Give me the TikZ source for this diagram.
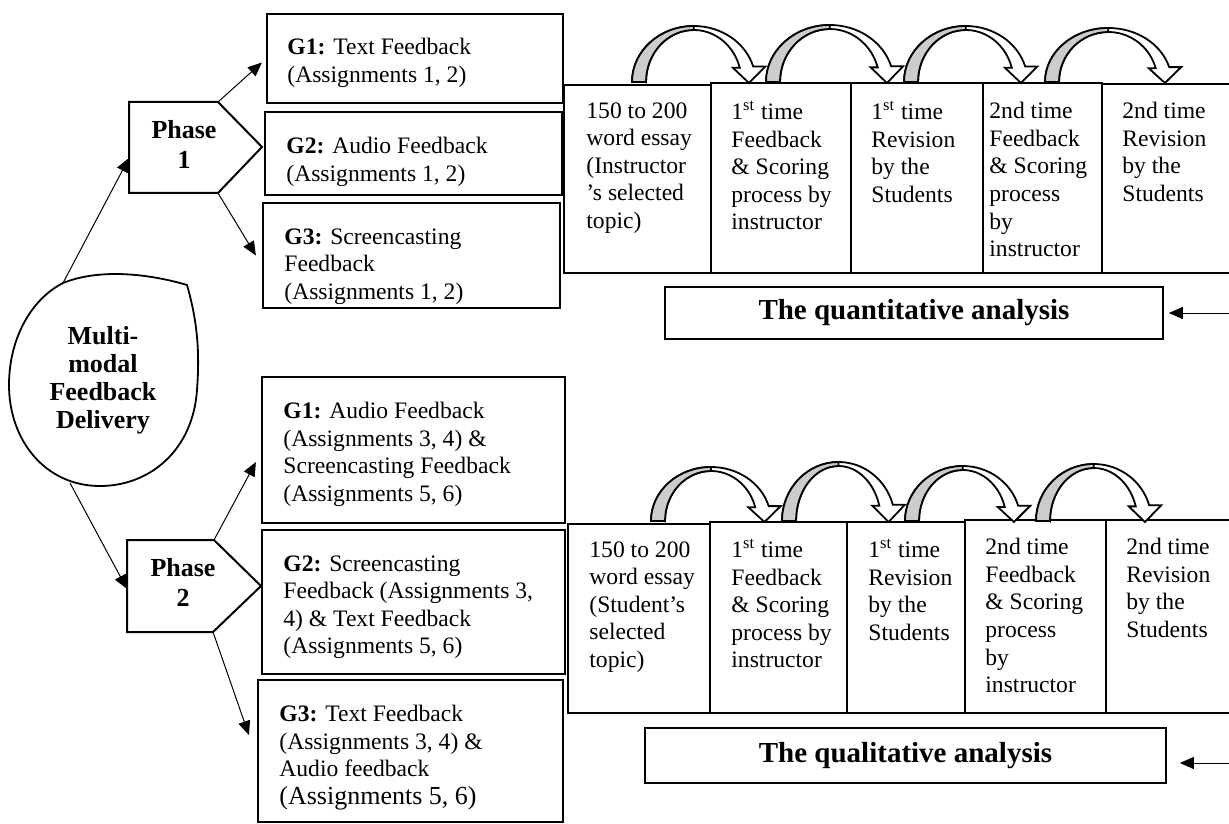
\documentclass[tikz,border=0pt]{standalone}
\usepackage{fontspec}
\setmainfont{Liberation Serif}
\usetikzlibrary{arrows.meta}
\usetikzlibrary{fit}

\tikzset{
	gbox/.style={draw, line width=1.1pt, inner sep=0pt},
	pbox/.style={draw, line width=0.6pt, inner sep=0pt},
	abox/.style={draw, line width=0.8pt, inner sep=0pt},
	hdr/.style={inner sep=0pt, font=\bfseries\fontsize{14.5}{16}\selectfont},
	txt/.style={anchor=north west, align=left, inner sep=0pt, font=\fontsize{11.8}{13.8}\selectfont},
	lbl/.style={align=center, inner sep=0pt, font=\bfseries\fontsize{13}{14}\selectfont},
	phlbl/.style={align=center, inner sep=0pt, font=\bfseries\fontsize{13}{15}\selectfont},
	conn/.style={-{Triangle[length=7pt,width=6pt]}, line width=0.5pt},
}

% curved block arrow: centre x, base y, radius, height
\newcommand{\bentarrow}[4]{%
	\pgfmathsetmacro{\axo}{#1+0.9613*#3}
	\pgfmathsetmacro{\axi}{#1+0.9613*(#3-14)}
	\pgfmathsetmacro{\ayo}{#2-0.2756*#4}
	\pgfmathsetmacro{\ayi}{#2-0.2756*(#4-4)}
	\pgfmathsetmacro{\axt}{(\axo+\axi+5)/2}
	\filldraw[fill=white, line width=0.9pt] ({#1-#3+14},#2) -- ({#1-#3},#2)
		arc[start angle=180, end angle=344, x radius=#3, y radius=#4]
		-- ({\axo+12},\ayo) -- (\axt,{#2+1}) -- ({\axi-7},\ayi) -- (\axi,\ayi)
		arc[start angle=344, end angle=180, x radius={#3-14}, y radius={#4-4}] -- cycle;
	\filldraw[fill=gray!40, line width=0.9pt] ({#1-#3+14},#2) -- ({#1-#3},#2)
		arc[start angle=180, end angle=270, x radius=#3, y radius=#4]
		-- (#1,{#2-#4+4})
		arc[start angle=270, end angle=180, x radius={#3-14}, y radius={#4-4}] -- cycle;
}

\begin{document}
\begin{tikzpicture}[x=0.5pt, y=-0.5pt]
	\useasboundingbox (0,0) rectangle (1229,823);
	\clip (0,0) rectangle (1229,823);

	% centre
	\draw[line width=0.9pt] (63,283) .. controls (100,268) and (150,274) .. (187,285)
		.. controls (197,320) and (200,350) .. (197,390)
		.. controls (193,450) and (150,486) .. (100,486)
		.. controls (45,486) and (9,440) .. (9,385)
		.. controls (9,340) and (30,300) .. (63,283);
	\node[lbl] (mfd) at (103,380) {Multi-\\modal\\Feedback\\Delivery};
	\coordinate (ovtop) at (63,283);
	\coordinate (ovbot) at (70,483);

	% phase 1
	\draw[line width=1pt] (129,102) -- (218,102) -- (262,147) -- (218,193) -- (129,193) -- cycle;
	\node[phlbl] (ph1) at (184,144) {Phase\\1};
	\coordinate (p1ne) at (218,102);
	\coordinate (p1se) at (218,193);
	\coordinate (p1w) at (129,158);

	\node[gbox, fit={(267,14) (563,103)}] (g1a) {};
	\node[txt] (g1at) at (287,38) {\textbf{G1:} Text Feedback\\(Assignments 1, 2)};
	\node[gbox, fit={(265,112) (562,195)}] (g2a) {};
	\node[txt] (g2at) at (286,137) {\textbf{G2:} Audio Feedback\\(Assignments 1, 2)};
	\node[gbox, fit={(263,203) (560,308)}] (g3a) {};
	\node[txt] (g3at) at (284,228) {\textbf{G3:} Screencasting\\Feedback\\(Assignments 1, 2)};

	% phase 2
	\draw[line width=1pt] (127,540) -- (214,540) -- (261,586) -- (213,632) -- (127,632) -- cycle;
	\node[phlbl] (ph2) at (183,582) {Phase\\2};
	\coordinate (p2ne) at (214,540);
	\coordinate (p2se) at (213,632);
	\coordinate (p2w) at (127,589);

	\node[gbox, fit={(262,377) (565,523)}] (g1b) {};
	\node[txt] (g1bt) at (283,402) {\textbf{G1:} Audio Feedback\\(Assignments 3, 4) \&\\Screencasting Feedback\\(Assignments 5, 6)};
	\node[gbox, fit={(262,530) (565,674)}] (g2b) {};
	\node[txt] (g2bt) at (283,555) {\textbf{G2:} Screencasting\\Feedback (Assignments 3,\\4) \& Text Feedback\\(Assignments 5, 6)};
	\node[gbox, fit={(258,680) (563,822)}] (g3b) {};
	\node[txt] (g3bt) at (279,705) {\textbf{G3:} Text Feedback\\(Assignments 3, 4) \&\\Audio feedback\\{\fontsize{13}{15}\selectfont(Assignments 5, 6)}};

	\draw[conn] (ovtop) -- (p1w);
	\draw[conn] (p1ne) -- ([xshift=-2pt,yshift=-2pt]g1a.west);
	\draw[conn] (p1se) -- ([xshift=-3pt]g3a.west);
	\draw[conn] (ovbot) -- (p2w);
	\draw[conn] (p2ne) -- ([xshift=-2.5pt,yshift=-6pt]g1b.west);
	\draw[conn] (p2se) -- ([xshift=-4pt,yshift=8pt]g3b.west);

	% quantitative steps
	\node[pbox, fit={(564,85) (711,273)}] (qa1) {};
	\node[pbox, fit={(711,83) (851,273)}] (qa2) {};
	\node[pbox, fit={(851,83) (983,273)}] (qa3) {};
	\node[pbox, fit={(983,83) (1102,273)}] (qa4) {};
	\node[pbox, fit={(1102,84) (1240,273)}] (qa5) {};
	\node[txt] (qa1t) at (586,102) {150 to 200\\word essay\\(Instructor\\’s selected\\topic)};
	\node[txt] (qa2t) at (731,101) {1\textsuperscript{st} time\\Feedback\\\& Scoring\\process by\\instructor};
	\node[txt] (qa3t) at (871,101) {1\textsuperscript{st} time\\Revision\\by the\\Students};
	\node[txt] (qa4t) at (989,102) {2nd time\\Feedback\\\& Scoring\\process\\by\\instructor};
	\node[txt] (qa5t) at (1122,102) {2nd time\\Revision\\by the\\Students};
	\bentarrow{693.8}{82}{61.8}{56}
	\bentarrow{829.8}{82}{63.8}{57}
	\bentarrow{965.8}{82}{61.8}{56}
	\bentarrow{1108.3}{82}{63.3}{54}

	\node[abox, fit={(665,287) (1163,339)}] (quant) {};
	\node[hdr] (quantt) at (quant.center) {The quantitative analysis};
	\coordinate (qin) at (1240,313);
	\draw[conn] (qin) -- ([xshift=2.5pt]quant.east);

	% qualitative steps
	\node[pbox, fit={(568,524) (710,713)}] (ql1) {};
	\node[pbox, fit={(710,522) (847,713)}] (ql2) {};
	\node[pbox, fit={(847,522) (965,713)}] (ql3) {};
	\node[pbox, fit={(965,520) (1106,713)}] (ql4) {};
	\node[pbox, fit={(1106,520) (1240,713)}] (ql5) {};
	\node[txt] (ql1t) at (589,541) {150 to 200\\word essay\\(Student’s\\selected\\topic)};
	\node[txt] (ql2t) at (731,539) {1\textsuperscript{st} time\\Feedback\\\& Scoring\\process by\\instructor};
	\node[txt] (ql3t) at (868,539) {1\textsuperscript{st} time\\Revision\\by the\\Students};
	\node[txt] (ql4t) at (985,538) {2nd time\\Feedback\\\& Scoring\\process\\by\\instructor};
	\node[txt] (ql5t) at (1126,538) {2nd time\\Revision\\by the\\Students};
	\bentarrow{711}{521}{60}{54}
	\bentarrow{838.5}{521}{56.5}{59}
	\bentarrow{962.7}{521}{57.7}{55}
	\bentarrow{1093.7}{521}{57.7}{57}

	\node[abox, fit={(645,728) (1166,783)}] (qual) {};
	\node[hdr] (qualt) at (qual.center) {The qualitative analysis};
	\coordinate (lin) at (1240,763);
	\draw[conn] (lin) -- ([xshift=6.5pt,yshift=-3.75pt]qual.east);
\end{tikzpicture}
\end{document}
